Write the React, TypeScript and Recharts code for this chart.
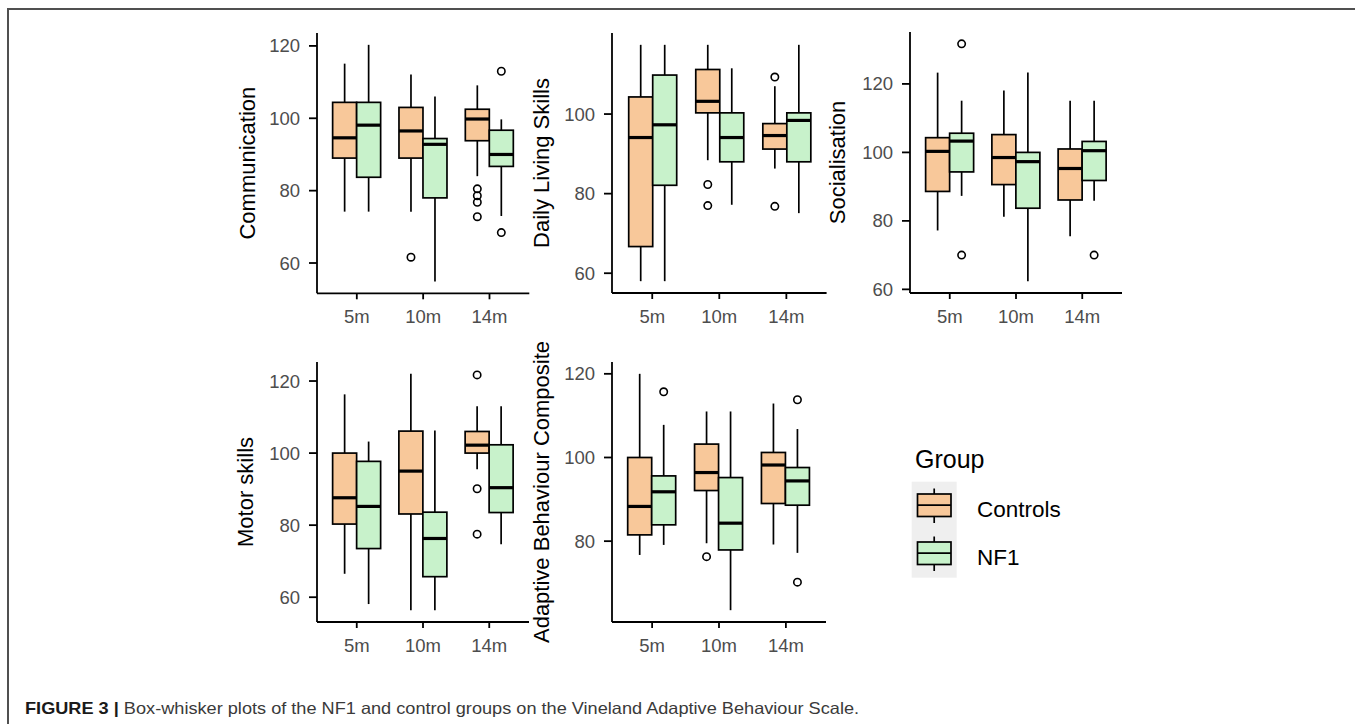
import { ComposedChart, Bar, XAxis, YAxis } from "recharts";

const categories = ["5m", "10m", "14m"];
const groups = ["Controls", "NF1"];
const groupFills = ["#f8c89a", "#c8f2cb"];

// each box: [lower whisker, Q1, median, Q3, upper whisker]
const communicationControls = [
  [74.2, 89.0, 94.6, 104.4, 115.1],
  [74.2, 89.0, 96.5, 103.0, 112.1],
  [84.0, 93.8, 99.8, 102.5, 109.1],
];
const communicationNF1 = [
  [74.2, 83.7, 98.1, 104.4, 120.3],
  [54.9, 78.0, 92.8, 94.4, 106.0],
  [73.0, 86.7, 90.0, 96.7, 99.7],
];
const communicationControlsOut = [[], [61.6], [80.5, 78.6, 76.8, 72.8]];
const communicationNF1Out = [[], [], [113.0, 68.4]];

const dailyControls = [
  [58.0, 66.7, 94.1, 104.3, 117.4],
  [88.4, 100.3, 103.2, 111.2, 117.4],
  [86.3, 91.2, 94.6, 97.6, 107.0],
];
const dailyNF1 = [
  [58.0, 82.1, 97.3, 109.8, 117.4],
  [77.2, 88.0, 94.1, 100.3, 111.5],
  [75.1, 88.0, 98.4, 100.3, 117.4],
];
const dailyControlsOut = [[], [82.3, 77.0], [109.3, 76.8]];
const dailyNF1Out = [[], [], []];

const socialControls = [
  [77.2, 88.6, 100.3, 104.3, 123.3],
  [81.2, 90.6, 98.5, 105.2, 118.1],
  [75.5, 86.1, 95.3, 101.0, 115.1],
];
const socialNF1 = [
  [87.3, 94.3, 103.3, 105.6, 115.1],
  [62.4, 83.7, 97.3, 100.0, 123.3],
  [85.9, 91.8, 100.5, 103.2, 115.1],
];
const socialControlsOut = [[], [], []];
const socialNF1Out = [[131.7, 70.0], [], [70.0]];

const motorControls = [
  [66.5, 80.3, 87.6, 100.0, 116.3],
  [56.4, 83.1, 95.0, 106.1, 122.0],
  [95.5, 100.0, 102.2, 106.0, 113.0],
];
const motorNF1 = [
  [58.1, 73.5, 85.2, 97.7, 103.2],
  [56.4, 65.7, 76.3, 83.6, 106.3],
  [74.7, 83.5, 90.4, 102.3, 113.0],
];
const motorControlsOut = [[], [], [121.7, 90.1, 77.5]];
const motorNF1Out = [[], [], []];

const adaptiveControls = [
  [76.7, 81.5, 88.3, 100.0, 120.0],
  [79.5, 92.1, 96.4, 103.2, 111.0],
  [79.2, 89.0, 98.2, 101.2, 112.9],
];
const adaptiveNF1 = [
  [79.1, 83.9, 91.8, 95.6, 107.8],
  [63.5, 77.9, 84.3, 95.2, 111.0],
  [77.2, 88.6, 94.4, 97.6, 106.8],
];
const adaptiveControlsOut = [[], [76.3], []];
const adaptiveNF1Out = [[115.7], [], [113.8, 70.2]];

const panels = [
  { title: "Communication", controls: communicationControls, nf1: communicationNF1, cOut: communicationControlsOut, nOut: communicationNF1Out, ticks: [60, 80, 100, 120], pl: 317, pr: 529.3, pt: 32.7, pb: 293, titleOff: 69.3 },
  { title: "Daily Living Skills", controls: dailyControls, nf1: dailyNF1, cOut: dailyControlsOut, nOut: dailyNF1Out, ticks: [60, 80, 100], pl: 611.7, pr: 826.3, pt: 32.7, pb: 292.7, titleOff: 70 },
  { title: "Socialisation", controls: socialControls, nf1: socialNF1, cOut: socialControlsOut, nOut: socialNF1Out, ticks: [60, 80, 100, 120], pl: 910, pr: 1122, pt: 31.7, pb: 292.7, titleOff: 72.7 },
  { title: "Motor skills", controls: motorControls, nf1: motorNF1, cOut: motorControlsOut, nOut: motorNF1Out, ticks: [60, 80, 100, 120], pl: 317.3, pr: 529.3, pt: 361.7, pb: 621.7, titleOff: 71.3 },
  { title: "Adaptive Behaviour Composite", controls: adaptiveControls, nf1: adaptiveNF1, cOut: adaptiveControlsOut, nOut: adaptiveNF1Out, ticks: [80, 100, 120], pl: 612.3, pr: 826.3, pt: 361.7, pb: 621.7, titleOff: 70.6 },
];

const FONT = "'Liberation Sans', Arial, sans-serif";
const AXIS_W = 100;
const TOP_PAD = 40;

const BoxShape = (props: any) => {
  const { x, y, width, height, payload, fill, statsKey, outKey } = props;
  const s: number[] = payload[statsKey];
  const outs: number[] = payload[outKey] || [];
  const top = Math.min(y, y + height);
  const bottom = Math.max(y, y + height);
  const [lo, q1, med, q3, hi] = s;
  // map a value using the bar's own (scaled) extent lo..hi
  const py = (v: number) => bottom - ((v - lo) / (hi - lo)) * (bottom - top);
  const cx = x + width / 2;
  return (
    <g>
      <line x1={cx} x2={cx} y1={py(hi)} y2={py(q3)} stroke="#000" strokeWidth={1.7} />
      <line x1={cx} x2={cx} y1={py(q1)} y2={py(lo)} stroke="#000" strokeWidth={1.7} />
      <rect x={x} y={py(q3)} width={width} height={py(q1) - py(q3)} fill={fill} stroke="#000" strokeWidth={1.7} />
      <line x1={x} x2={x + width} y1={py(med)} y2={py(med)} stroke="#000" strokeWidth={3.2} />
      {outs.map((o, i) => (
        <circle key={i} cx={cx} cy={py(o)} r={3.7} fill="none" stroke="#000" strokeWidth={1.6} />
      ))}
    </g>
  );
};

const Panel = ({ p }: { p: any }) => {
  const rows = categories.map((cat, i) => ({
    cat,
    controls: [p.controls[i][0], p.controls[i][4]],
    nf1: [p.nf1[i][0], p.nf1[i][4]],
    controlsStats: p.controls[i],
    nf1Stats: p.nf1[i],
    controlsOut: p.cOut[i],
    nf1Out: p.nOut[i],
  }));
  const all = [...p.controls.flat(), ...p.nf1.flat(), ...p.cOut.flat(), ...p.nOut.flat()];
  const mn = Math.min(...all);
  const mx = Math.max(...all);
  const pad = (mx - mn) * 0.05;
  const plotW = p.pr - p.pl;
  const plotH = p.pb - p.pt;
  const band = plotW / 3.2;

  return (
    <div style={{ position: "absolute", left: p.pl - AXIS_W, top: p.pt - TOP_PAD }}>
      <ComposedChart
        width={plotW + AXIS_W + 5}
        height={plotH + TOP_PAD + 40}
        data={rows}
        margin={{ top: TOP_PAD, right: 5, bottom: 0, left: 0 }}
        barGap={0}
      >
        <XAxis
          dataKey="cat"
          interval={0}
          height={40}
          padding={{ left: band * 0.1, right: band * 0.1 }}
          axisLine={{ stroke: "#000", strokeWidth: 1.8 }}
          tickLine={{ stroke: "#000", strokeWidth: 1.8 }}
          tickSize={6}
          tickMargin={11}
          tick={{ fill: "#4d4d4d", fontSize: 18.5 }}
        />
        <YAxis
          type="number"
          width={AXIS_W}
          domain={[mn - pad, mx + pad]}
          ticks={p.ticks}
          axisLine={{ stroke: "#000", strokeWidth: 1.8 }}
          tickLine={{ stroke: "#000", strokeWidth: 1.8 }}
          tickSize={8}
          tickMargin={9}
          tick={{ fill: "#4d4d4d", fontSize: 18.5 }}
          label={{
            content: (lp: any) => {
              const vb = lp.viewBox || { x: 0, y: TOP_PAD, width: AXIS_W, height: plotH };
              const cx = vb.x + vb.width - p.titleOff;
              const cy = vb.y + vb.height / 2;
              return (
                <text
                  x={cx}
                  y={cy}
                  transform={`rotate(-90, ${cx}, ${cy})`}
                  textAnchor="middle"
                  dominantBaseline="central"
                  fontSize={22}
                  fill="#000"
                >
                  {p.title}
                </text>
              );
            },
          }}
        />
        <Bar
          dataKey="controls"
          name={groups[0]}
          fill={groupFills[0]}
          barSize={24}
          isAnimationActive={false}
          shape={(sp: any) => <BoxShape {...sp} statsKey="controlsStats" outKey="controlsOut" />}
        />
        <Bar
          dataKey="nf1"
          name={groups[1]}
          fill={groupFills[1]}
          barSize={24}
          isAnimationActive={false}
          shape={(sp: any) => <BoxShape {...sp} statsKey="nf1Stats" outKey="nf1Out" />}
        />
      </ComposedChart>
    </div>
  );
};

const GroupLegend = () => (
  <svg width={220} height={170} style={{ position: "absolute", left: 890, top: 430 }}>
    <text x={25} y={38} fontSize={25} fill="#000">
      Group
    </text>
    <rect x={21.7} y={51.7} width={45} height={96} fill="#efefef" />
    {groups.map((g, i) => {
      const o = i * 48;
      return (
        <g key={g}>
          <line x1={44.2} x2={44.2} y1={58.5 + o} y2={93 + o} stroke="#000" strokeWidth={1.7} />
          <rect x={27.5} y={64 + o} width={33.5} height={22.5} fill={groupFills[i]} stroke="#000" strokeWidth={1.7} />
          <line x1={27.5} x2={61} y1={75.2 + o} y2={75.2 + o} stroke="#000" strokeWidth={1.7} />
          <text x={87} y={86.5 + o} fontSize={22.5} fill="#000">
            {g}
          </text>
        </g>
      );
    })}
  </svg>
);

export default function App() {
  return (
    <div
      style={{
        position: "absolute",
        left: 0,
        top: 0,
        width: 1355,
        height: 724,
        overflow: "hidden",
        background: "#fff",
        fontFamily: FONT,
      }}
    >
      <div
        style={{
          position: "absolute",
          left: 7,
          top: 8,
          width: 1400,
          height: 800,
          borderTop: "2px solid #505050",
          borderLeft: "2px solid #505050",
        }}
      />
      {panels.map((p) => (
        <Panel key={p.title} p={p} />
      ))}
      <GroupLegend />
      <div
        style={{
          position: "absolute",
          left: 25,
          top: 699.5,
          fontSize: 16.5,
          lineHeight: "16.5px",
          whiteSpace: "nowrap",
          color: "#3a3a3a",
          transform: "scaleX(1.1)",
          transformOrigin: "left center",
        }}
      >
        <span style={{ fontWeight: "bold", color: "#1a1a1a" }}>FIGURE 3 |</span> Box-whisker plots of the NF1 and
        control groups on the Vineland Adaptive Behaviour Scale.
      </div>
    </div>
  );
}
